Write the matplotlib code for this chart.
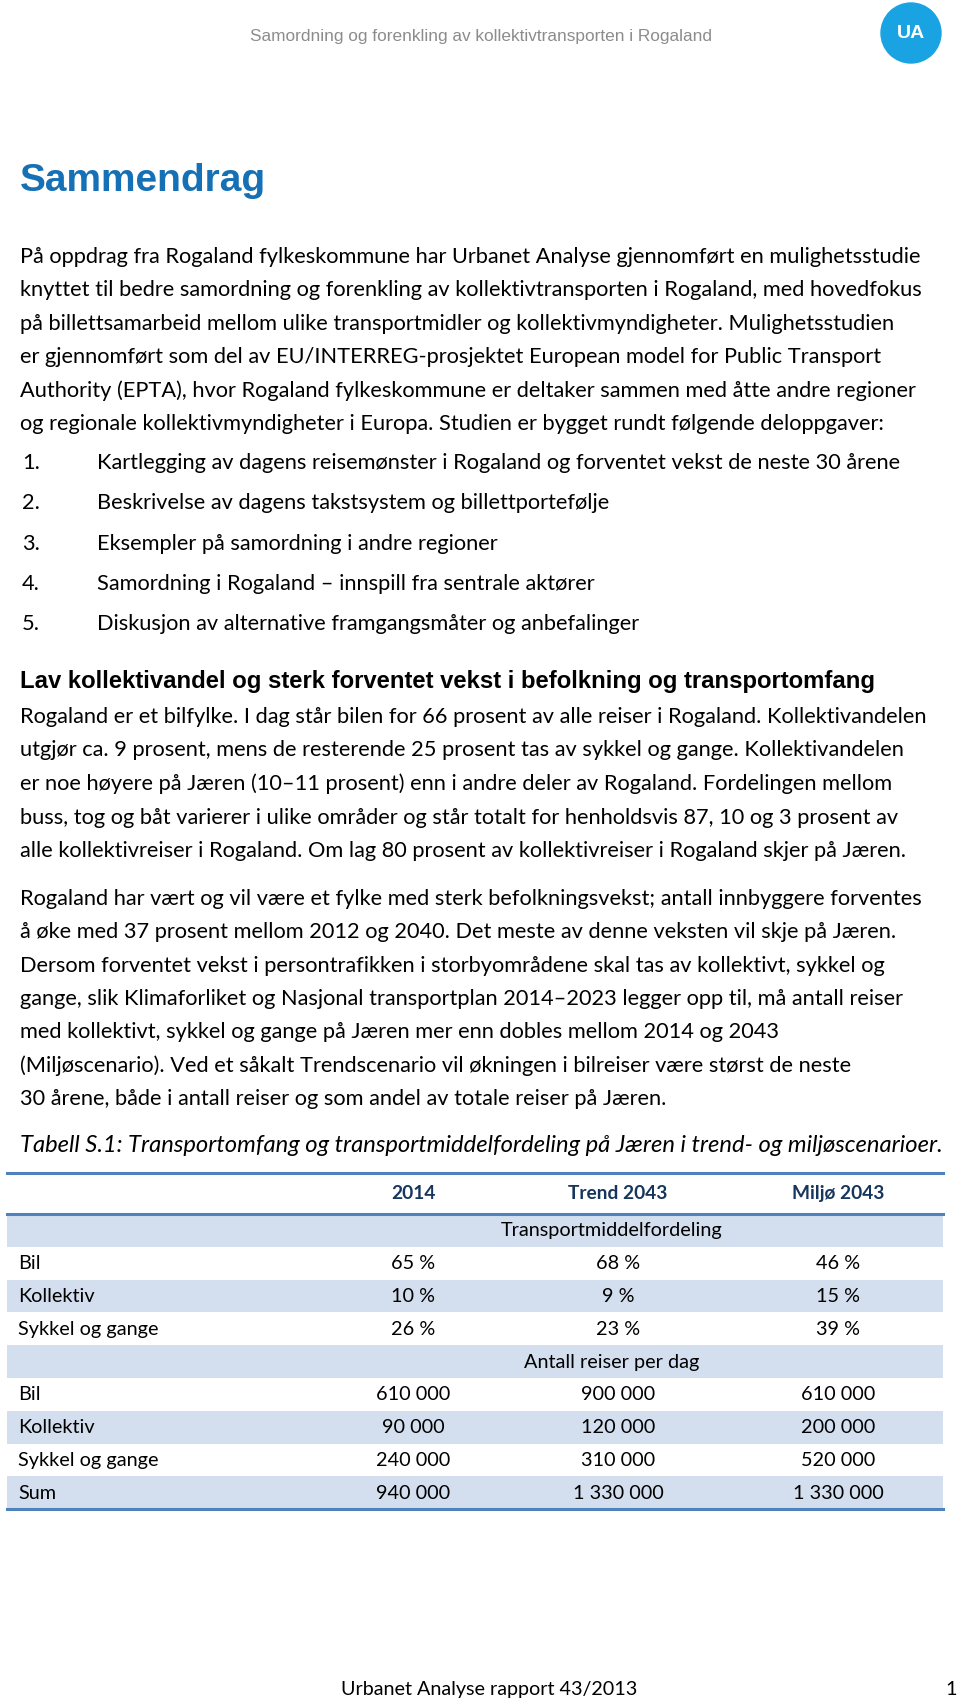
import matplotlib.pyplot as plt
from matplotlib.patches import Circle, Rectangle

# Page text
header = "Samordning og forenkling av kollektivtransporten i Rogaland"
title = "Sammendrag"
para1 = [
    "På oppdrag fra Rogaland fylkeskommune har Urbanet Analyse gjennomført en mulighetsstudie",
    "knyttet til bedre samordning og forenkling av kollektivtransporten i Rogaland, med hovedfokus",
    "på billettsamarbeid mellom ulike transportmidler og kollektivmyndigheter. Mulighetsstudien",
    "er gjennomført som del av EU/INTERREG-prosjektet European model for Public Transport",
    "Authority (EPTA), hvor Rogaland fylkeskommune er deltaker sammen med åtte andre regioner",
    "og regionale kollektivmyndigheter i Europa. Studien er bygget rundt følgende deloppgaver:",
]
tasks = [
    "Kartlegging av dagens reisemønster i Rogaland og forventet vekst de neste 30 årene",
    "Beskrivelse av dagens takstsystem og billettportefølje",
    "Eksempler på samordning i andre regioner",
    "Samordning i Rogaland – innspill fra sentrale aktører",
    "Diskusjon av alternative framgangsmåter og anbefalinger",
]
heading2 = "Lav kollektivandel og sterk forventet vekst i befolkning og transportomfang"
para2 = [
    "Rogaland er et bilfylke. I dag står bilen for 66 prosent av alle reiser i Rogaland. Kollektivandelen",
    "utgjør ca. 9 prosent, mens de resterende 25 prosent tas av sykkel og gange. Kollektivandelen",
    "er noe høyere på Jæren (10–11 prosent) enn i andre deler av Rogaland. Fordelingen mellom",
    "buss, tog og båt varierer i ulike områder og står totalt for henholdsvis 87, 10 og 3 prosent av",
    "alle kollektivreiser i Rogaland. Om lag 80 prosent av kollektivreiser i Rogaland skjer på Jæren.",
]
para3 = [
    "Rogaland har vært og vil være et fylke med sterk befolkningsvekst; antall innbyggere forventes",
    "å øke med 37 prosent mellom 2012 og 2040. Det meste av denne veksten vil skje på Jæren.",
    "Dersom forventet vekst i persontrafikken i storbyområdene skal tas av kollektivt, sykkel og",
    "gange, slik Klimaforliket og Nasjonal transportplan 2014–2023 legger opp til, må antall reiser",
    "med kollektivt, sykkel og gange på Jæren mer enn dobles mellom 2014 og 2043",
    "(Miljøscenario). Ved et såkalt Trendscenario vil økningen i bilreiser være størst de neste",
    "30 årene, både i antall reiser og som andel av totale reiser på Jæren.",
]
caption = "Tabell S.1: Transportomfang og transportmiddelfordeling på Jæren i trend- og miljøscenarioer."

# Table data
columns = ["2014", "Trend 2043", "Miljø 2043"]
share_rows = ["Bil", "Kollektiv", "Sykkel og gange"]
share_2014 = ["65 %", "10 %", "26 %"]
share_trend = ["68 %", "9 %", "23 %"]
share_miljo = ["46 %", "15 %", "39 %"]
trip_rows = ["Bil", "Kollektiv", "Sykkel og gange", "Sum"]
trips_2014 = ["610 000", "90 000", "240 000", "940 000"]
trips_trend = ["900 000", "120 000", "310 000", "1 330 000"]
trips_miljo = ["610 000", "200 000", "520 000", "1 330 000"]
footer = "Urbanet Analyse rapport 43/2013"

W, H = 960, 1703
fig = plt.figure(figsize=(W / 100, H / 100), dpi=100)
ax = fig.add_axes([0, 0, 1, 1])
ax.set_xlim(0, W)
ax.set_ylim(H, 0)
ax.axis("off")

body = dict(family="Lato", fontsize=15.7, color="black", va="baseline")
tab = dict(family="Lato", fontsize=14.3, color="black", va="baseline")
arial = "Liberation Sans"

# header
ax.text(481, 41, header, family=arial, fontsize=12.4, color="#8c8c8c", ha="center", va="baseline")
ax.add_patch(Circle((911, 33), 30, color="#1aa3e2"))
ax.text(911, 34, "UA", family=arial, fontsize=14, weight="bold", color="white", ha="center", va="center")

ax.text(20, 191, title, family=arial, fontsize=28, weight="bold", color="#1570b5", va="baseline")

y0 = 263
for i, line in enumerate(para1):
    ax.text(20, y0 + i * 33.4, line, **body)

y0 = 469
for i, line in enumerate(tasks):
    ax.text(22, y0 + i * 40.3, f"{i + 1}.", **body)
    ax.text(97, y0 + i * 40.3, line, **body)

ax.text(20, 688, heading2, family=arial, fontsize=17.2, weight="bold", va="baseline")

y0 = 723
for i, line in enumerate(para2):
    ax.text(20, y0 + i * 33.5, line, **body)

y0 = 905
for i, line in enumerate(para3):
    ax.text(20, y0 + i * 33.3, line, **body)

ax.text(20, 1152, caption, family="Lato", style="italic", fontsize=17.1, va="baseline")

# table
left, right = 7, 943
line_col = "#4f81bd"
shade = "#d3dfee"
col_x = [413, 618, 838]
ax.plot([left, right], [1173, 1173], color=line_col, lw=2.2)
for x, c in zip(col_x, columns):
    ax.text(x, 1199, c, family="Lato", fontsize=13.8, weight="bold", color="#17365d", ha="center", va="baseline")
ax.plot([left, right], [1214, 1214], color=line_col, lw=2.2)

rh = 32.8
top = 1214


def table_row(k, label, vals, shaded):
    y = top + k * rh
    if shaded:
        ax.add_patch(Rectangle((left, y), right - left, rh, color=shade, lw=0, zorder=0))
    yb = y + rh / 2 + 6
    if label:
        ax.text(18, yb, label, **tab)
    for x, v in zip(col_x, vals):
        ax.text(x, yb, v, ha="center", **tab)


def band_row(k, label):
    y = top + k * rh
    ax.add_patch(Rectangle((left, y), right - left, rh, color=shade, lw=0, zorder=0))
    ax.text(612, y + rh / 2 + 6, label, ha="center", **tab)


band_row(0, "Transportmiddelfordeling")
for i, lab in enumerate(share_rows):
    table_row(1 + i, lab, [share_2014[i], share_trend[i], share_miljo[i]], i == 1)
band_row(4, "Antall reiser per dag")
for i, lab in enumerate(trip_rows):
    table_row(5 + i, lab, [trips_2014[i], trips_trend[i], trips_miljo[i]], i % 2 == 1)
ax.plot([left, right], [top + 9 * rh, top + 9 * rh], color=line_col, lw=2.2)

ax.text(489, 1695, footer, ha="center", family="Lato", fontsize=14.2, va="baseline")
ax.text(957, 1695, "1", ha="right", family="Lato", fontsize=14.2, va="baseline")

fig.savefig("out.png", dpi=100)
